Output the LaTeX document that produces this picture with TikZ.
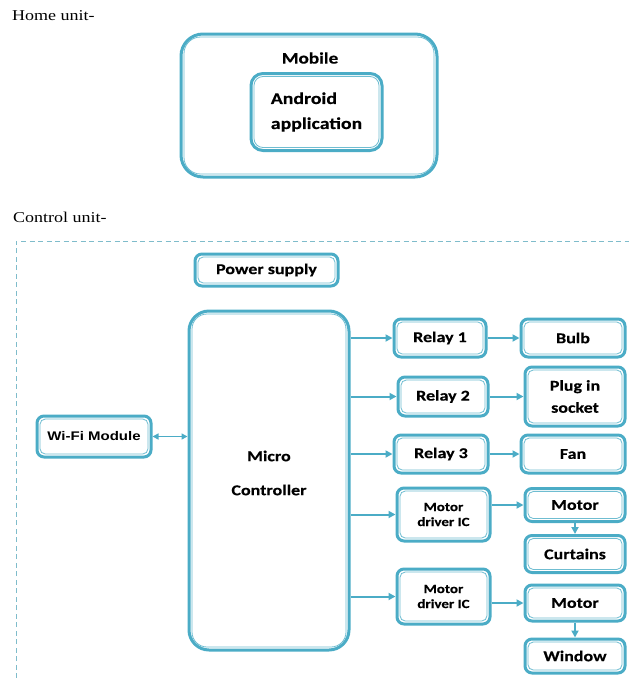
\documentclass[tikz,border=0pt]{standalone}
\usepackage{fontspec}
\setmainfont[FakeStretch=1.2]{Liberation Serif}
\newfontfamily\calfont[FakeStretch=1.2,FakeBold=0.3]{Carlito Bold}
\newfontfamily\arialfont[FakeStretch=1.2]{Liberation Sans Bold}
\usetikzlibrary{arrows.meta}
\definecolor{tc}{HTML}{4BACC6}
\definecolor{dc}{HTML}{7FBCCB}
\begin{document}
\begin{tikzpicture}[x=1pt,y=-1pt,
  box/.style={draw=tc, line width=3pt, fill=white, rounded corners=#1,
    inner sep=0pt, align=center, font=\calfont\fontsize{15}{18}\selectfont,
    path picture={\draw[tc!80, line width=0.8pt, rounded corners=#1*0.75]
      ([shift={(3pt,3pt)}]path picture bounding box.south west) rectangle
      ([shift={(-3pt,-3pt)}]path picture bounding box.north east);}},
  box/.default=7pt,
  small/.style={font=\calfont\fontsize{12.5}{15}\selectfont},
  arr/.style={draw=tc, line width=2pt, -{Triangle[length=7pt,width=7pt]}},
  darr/.style={draw=tc, line width=1.8pt, {Triangle[length=6pt,width=6pt]}-{Triangle[length=6pt,width=6pt]}},
  captext/.style={inner sep=0pt, anchor=west, font=\fontsize{15}{18}\selectfont}
]
\useasboundingbox (0,0) rectangle (629,678);

\node[captext] (home) at (12,16) {Home unit-};
\node[captext] (ctrl) at (13,217) {Control unit-};

\draw[dc, line width=1pt, dash pattern=on 5pt off 3.5pt] (16,678) -- (16,241) -- (629,241);

% home unit
\node[box=22pt, minimum width=256pt, minimum height=143pt] (mobile) at (309,105.5) {};
\node[font=\calfont\fontsize{16}{18}\selectfont, inner sep=0pt] (mobtxt) at (310,58) {Mobile};
\node[box=12pt, minimum width=131pt, minimum height=77pt, align=left,
  font=\calfont\fontsize{16.5}{25}\selectfont] (android) at (316.5,112) {Android\\application};

% control unit
\node[box, minimum width=143pt, minimum height=32pt] (power) at (266.5,270) {Power supply};
\node[box=20pt, minimum width=160pt, minimum height=339pt] (mc) at (269,480.5) {};
\node[font=\calfont\fontsize{15}{34}\selectfont, align=center, inner sep=0pt] (mctext) at (269,473) {Micro\\Controller};
\node[box, minimum width=114pt, minimum height=41pt,
  font=\arialfont\fontsize{12.5}{15}\selectfont] (wifi) at (94,436.5) {Wi-Fi Module};

\node[box, minimum width=92pt, minimum height=38pt] (r1) at (440,338) {Relay 1};
\node[box, minimum width=104pt, minimum height=38pt] (bulb) at (573,338) {Bulb};
\node[box, minimum width=90pt, minimum height=39pt] (r2) at (443,396.5) {Relay 2};
\node[box, minimum width=100pt, minimum height=59pt, font=\calfont\fontsize{15}{22}\selectfont] (plug) at (575,396.5) {Plug in\\socket};
\node[box, minimum width=94pt, minimum height=38pt] (r3) at (441,454) {Relay 3};
\node[box, minimum width=104pt, minimum height=38pt] (fan) at (573,454) {Fan};

\node[box, small, minimum width=93pt, minimum height=53pt] (md1) at (443.5,514.5) {Motor\\driver IC};
\node[box, minimum width=100pt, minimum height=33pt] (m1) at (575,505) {Motor};
\node[box, minimum width=100pt, minimum height=37pt] (cur) at (575,554) {Curtains};
\node[box, small, minimum width=93pt, minimum height=55pt] (md2) at (443.5,596.5) {Motor\\driver IC};
\node[box, minimum width=100pt, minimum height=36pt] (m2) at (575,603) {Motor};
\node[box, minimum width=100pt, minimum height=34pt] (win) at (575,656) {Window};

% connectors
\draw[darr] (wifi.east) -- (mc.west |- wifi.east);
\draw[arr] (mc.east |- r1.west) -- (r1.west);
\draw[arr] (mc.east |- r2.west) -- (r2.west);
\draw[arr] (mc.east |- r3.west) -- (r3.west);
\draw[arr] (mc.east |- md1.west) -- (md1.west);
\draw[arr] (mc.east |- md2.west) -- (md2.west);
\draw[arr] (r1.east) -- (bulb.west);
\draw[arr] (r2.east) -- (plug.west);
\draw[arr] (r3.east) -- (fan.west);
\draw[arr] (md1.east |- m1.west) -- (m1.west);
\draw[arr] (md2.east |- m2.west) -- (m2.west);
\draw[arr] (m1.south) -- (cur.north);
\draw[arr] (m2.south) -- (win.north);
\end{tikzpicture}
\end{document}
